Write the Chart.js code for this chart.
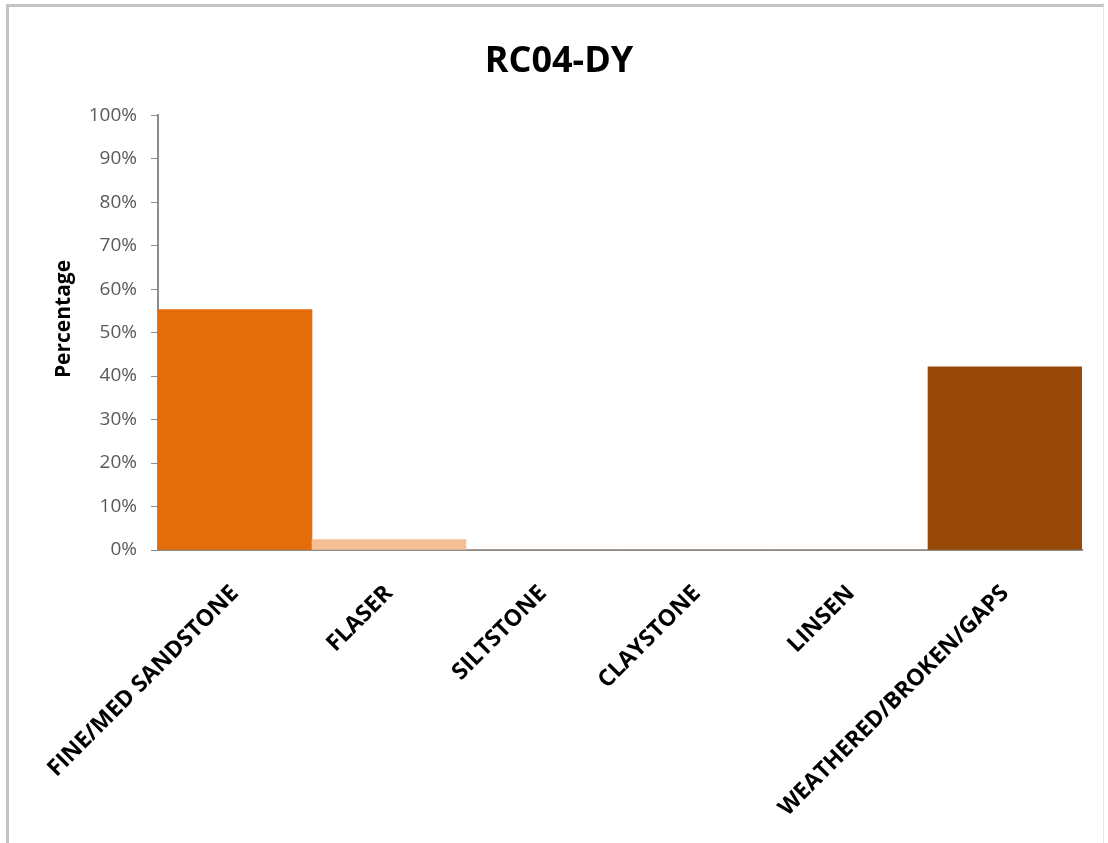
<!DOCTYPE html>
<html>
<head>
<meta charset="utf-8">
<script src="https://cdn.jsdelivr.net/npm/chart.js@4"></script>
<style>
  html, body { margin: 0; padding: 0; background: #ffffff; overflow: hidden; }
  #marco {
    position: absolute; left: 6px; top: 4px; width: 1094px; height: 860px;
    border-top: 3px solid #c4c4c4; border-left: 3px solid #c4c4c4; border-right: 1px solid #e6e6e6;
  }
  #wrap { position: absolute; left: 0; top: 0; width: 1108px; height: 843px; }
</style>
</head>
<body>
<div id="marco"></div>
<div id="wrap"><canvas id="grafica"></canvas></div>
<script>
const categorias = ['FINE/MED SANDSTONE', 'FLASER', 'SILTSTONE', 'CLAYSTONE', 'LINSEN', 'WEATHERED/BROKEN/GAPS'];
const porcentajes = [55.3, 2.4, 0, 0, 0, 42.1];
const colores = ['#e46c0a', '#f6be94', '#f6be94', '#f6be94', '#f6be94', '#984807'];
const ticksY = [0, 10, 20, 30, 40, 50, 60, 70, 80, 90, 100];

const ctx = document.getElementById('grafica').getContext('2d');

new Chart(ctx, {
  type: 'bar',
  data: {
    labels: categorias,
    datasets: [{
      data: porcentajes,
      backgroundColor: colores,
      borderWidth: 0,
      barPercentage: 1,
      categoryPercentage: 1,
    }],
  },
  options: {
    responsive: true,
    maintainAspectRatio: false,
    animation: false,
    layout: { padding: { left: 10, right: 0, top: 0, bottom: 0 } },
    plugins: {
      legend: { display: false },
      tooltip: { enabled: false },
      title: {
        display: true,
        text: 'RC04-DY',
        color: '#000000',
        font: { family: 'Open Sans', weight: 'bold', size: 36 },
        padding: { top: 40, bottom: 32 },
      },
    },
    scales: {
      x: {
        grid: { drawOnChartArea: false, drawTicks: false },
        border: { color: '#8c8c8c', width: 2 },
        ticks: {
          color: '#000000',
          font: { family: 'Open Sans', weight: 'bold', size: 23 },
          minRotation: 45,
          maxRotation: 45,
          padding: 30,
          autoSkip: false,
        },
        afterFit: (s) => { s.height = 293; },
      },
      y: {
        min: 0,
        max: 100,
        afterBuildTicks: (s) => { s.ticks = ticksY.map(v => ({ value: v })); },
        grid: { drawOnChartArea: false, drawTicks: true, tickLength: 7, color: '#8c8c8c', width: 2 },
        border: { color: '#8c8c8c', width: 2 },
        ticks: {
          color: '#595959',
          font: { family: 'Open Sans', size: 19 },
          padding: 14,
          callback: (v) => v + '%',
        },
        title: {
          display: true,
          text: '     Percentage',
          color: '#000000',
          font: { family: 'Open Sans', weight: 'bold', size: 21 },
          padding: { top: 41, bottom: 0 },
        },
        afterFit: (s) => { s.width = 148; },
      },
      // eje vacío a la derecha para dejar el margen sin descentrar el título
      derecha: {
        position: 'right',
        grid: { display: false },
        border: { display: false },
        ticks: { display: false },
        afterFit: (s) => { s.width = 26; },
      },
    },
  },
});
</script>
</body>
</html>
